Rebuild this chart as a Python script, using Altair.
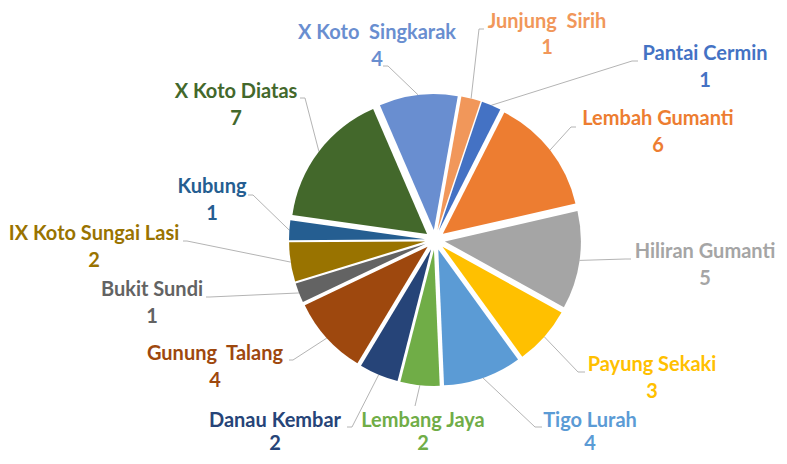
import math
import altair as alt
import pandas as pd

# ---- data ----
categories = ["Pantai Cermin", "Lembah Gumanti", "Hiliran Gumanti", "Payung Sekaki",
              "Tigo Lurah", "Lembang Jaya", "Danau Kembar", "Gunung \u00a0Talang",
              "Bukit Sundi", "IX Koto Sungai Lasi", "Kubung", "X Koto Diatas",
              "X Koto \u00a0Singkarak", "Junjung \u00a0Sirih"]
values = [1, 6, 5, 3, 4, 2, 2, 4, 1, 2, 1, 7, 4, 1]
colors = ["#4472C4", "#ED7D31", "#A5A5A5", "#FFC000", "#5B9BD5", "#70AD47", "#264478",
          "#9E480E", "#636363", "#997300", "#255E91", "#43682B", "#698ED0", "#F1975A"]

# ---- label layout (page pixel positions of label centres and leader elbows) ----
label_x = [705, 658, 705, 652, 590, 423, 275, 215, 152, 94, 212, 236, 377, 547]
label_y = [54, 119, 252, 365, 421, 421, 421, 354, 290, 234, 187, 92, 33, 22]
attach_x = [638, 576, 631, 585, 542, 415, 347, 289, 206, 183, 248, 300, 383, 484]
elbow_x = [632, 571, 626, 578, 535, 415, 352, 293, 210, 187, 253, 305, 388, 479]
elbow_y = [61, 127, 259, 372, 427, 406, 427, 360, 297, 241, 195, 98, 66, 29]
value_gap = [27, 27, 27, 27, 23, 23, 23, 27, 27, 27, 27, 27, 27, 26]

PAGE_CX, PAGE_CY = 435, 240      # pie centre on the page
W, H = 771, 448
CX, CY = PAGE_CX - 8, PAGE_CY - 8
A0 = math.radians(18.5)           # start angle of first slice
TOTAL = sum(values)
EXPLODE = 10
R = 136

df = pd.DataFrame({
    "cat": categories,
    "value": values,
    "order": list(range(len(categories))),
    "lx": [v - PAGE_CX for v in label_x],
    "ly": [v - PAGE_CY for v in label_y],
    "vgap": value_gap,
    "ax": [v - PAGE_CX for v in attach_x],
    "ex": [v - PAGE_CX for v in elbow_x],
    "ey": [v - PAGE_CY for v in elbow_y],
})

xs = alt.Scale(domain=[-CX, W - CX])
ys = alt.Scale(domain=[-CY, H - CY], reverse=True)
color = alt.Color("cat:N", scale=alt.Scale(domain=categories, range=colors), legend=None)

base = (
    alt.Chart(df)
    .transform_window(cum="sum(value)", sort=[alt.SortField("order")], frame=[None, 0])
    .transform_calculate(
        start="datum.cum - datum.value",
        mid=f"{A0} + 2*PI*(datum.cum - datum.value/2)/{TOTAL}",
    )
    .transform_calculate(
        ox=f"{EXPLODE}*sin(datum.mid)",
        oy=f"-{EXPLODE}*cos(datum.mid)",
        px=f"{R + EXPLODE}*sin(datum.mid)",
        py=f"-{R + EXPLODE}*cos(datum.mid)",
        vy="datum.ly + datum.vgap",
    )
)

arcs = base.mark_arc(outerRadius=R, innerRadius=0).encode(
    theta=alt.Theta("start:Q", scale=alt.Scale(domain=[0, TOTAL], range=[A0, A0 + 2 * math.pi]), stack=False),
    theta2="cum:Q",
    x=alt.X("ox:Q", scale=xs, axis=None),
    y=alt.Y("oy:Q", scale=ys, axis=None),
    color=color,
)

leader = base.mark_rule(color="#B4B4B4", strokeWidth=1).encode(
    x=alt.X("px:Q", scale=xs, axis=None),
    y=alt.Y("py:Q", scale=ys, axis=None),
    x2="ex:Q",
    y2="ey:Q",
)

tick = base.mark_rule(color="#B4B4B4", strokeWidth=1).encode(
    x=alt.X("ex:Q", scale=xs, axis=None),
    x2="ax:Q",
    y=alt.Y("ey:Q", scale=ys, axis=None),
)

names = base.mark_text(font="Lato", fontWeight="bold", fontSize=20, align="center", baseline="middle").encode(
    x=alt.X("lx:Q", scale=xs, axis=None),
    y=alt.Y("ly:Q", scale=ys, axis=None),
    text="cat:N",
    color=color,
)

nums = base.mark_text(font="Lato", fontWeight="bold", fontSize=20, align="center", baseline="middle").encode(
    x=alt.X("lx:Q", scale=xs, axis=None),
    y=alt.Y("vy:Q", scale=ys, axis=None),
    text="value:Q",
    color=color,
)

chart = (
    alt.layer(leader, tick, arcs, names, nums)
    .properties(width=W, height=H, padding=0, autosize=alt.AutoSizeParams(type="none"))
    .configure_view(stroke=None)
)

chart.save("out.html", embed_options={"renderer": "svg", "actions": False})
